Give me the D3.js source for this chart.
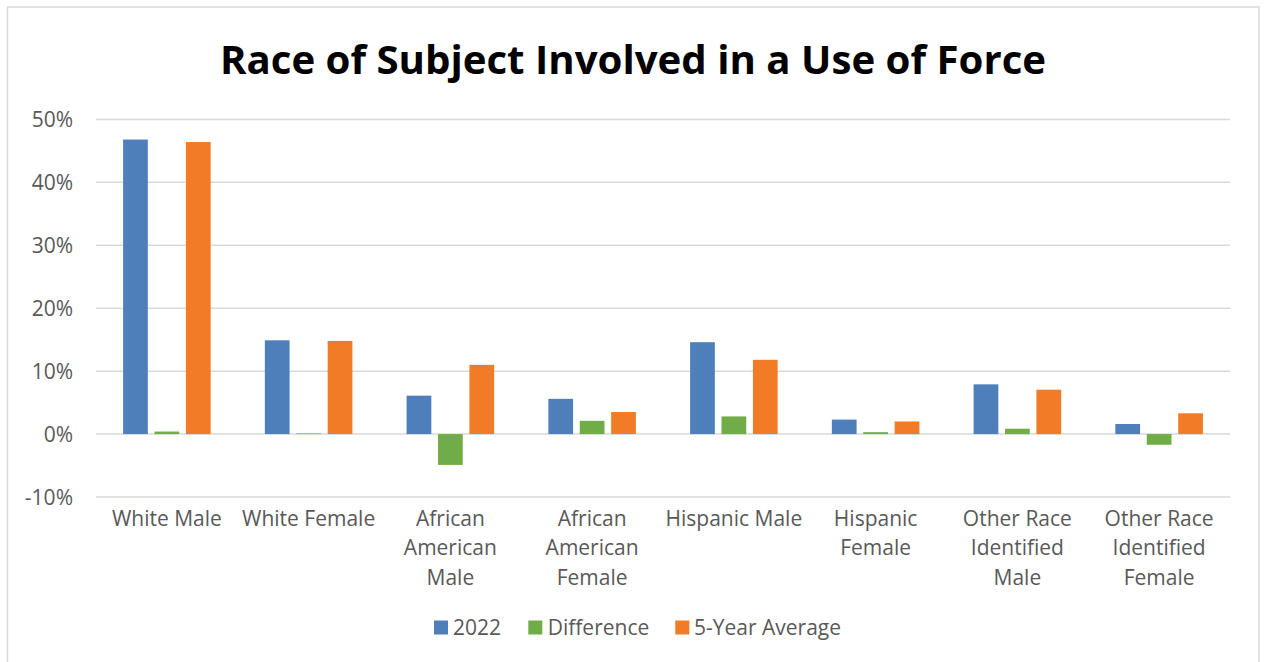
<!DOCTYPE html>
<html>
<head>
<meta charset="utf-8">
<script src="https://cdn.jsdelivr.net/npm/d3@7"></script>
<style>
  html, body { margin: 0; padding: 0; background: #ffffff; }
  svg { display: block; font-family: "Open Sans", "Noto Sans", sans-serif; }
</style>
</head>
<body>
<svg id="chart" width="1264" height="662"></svg>
<script>
// Use-of-force subjects by race and sex, as a share of all subjects (%)
const categories = [
  ["White Male"],
  ["White Female"],
  ["African", "American", "Male"],
  ["African", "American", "Female"],
  ["Hispanic Male"],
  ["Hispanic", "Female"],
  ["Other Race", "Identified", "Male"],
  ["Other Race", "Identified", "Female"]
];
const seriesNames = ["2022", "Difference", "5-Year Average"];
const values2022 = [46.8, 14.9, 6.1, 5.6, 14.6, 2.3, 7.9, 1.6];
const valuesDifference = [0.4, 0.1, -4.9, 2.1, 2.8, 0.3, 0.85, -1.7];
const valuesFiveYear = [46.4, 14.8, 11.0, 3.5, 11.8, 2.0, 7.05, 3.3];
const yTicks = [-10, 0, 10, 20, 30, 40, 50];
const colors = ["#4e7fbb", "#70ad47", "#f27b27"];

const svg = d3.select("#chart");
const W = 1264, H = 662;

// outer chart frame
svg.append("rect")
  .attr("x", 7.5).attr("y", 7).attr("width", 1251.5).attr("height", H + 10)
  .attr("fill", "#ffffff").attr("stroke", "#d9d9d9").attr("stroke-width", 1.5);

// title
svg.append("text")
  .attr("x", 633).attr("y", 74)
  .attr("text-anchor", "middle")
  .attr("font-size", 40.2).attr("font-weight", 700).attr("fill", "#000000")
  .text("Race of Subject Involved in a Use of Force");

const plot = { left: 96, right: 1230, top: 119.4, bottom: 497 };

const x = d3.scaleBand()
  .domain(d3.range(categories.length))
  .range([plot.left, plot.right])
  .paddingInner(0).paddingOuter(0);

const y = d3.scaleLinear().domain([-10, 50]).range([plot.bottom, plot.top]);

// gridlines
svg.append("g").selectAll("line")
  .data(yTicks)
  .join("line")
  .attr("x1", plot.left).attr("x2", plot.right)
  .attr("y1", d => y(d)).attr("y2", d => y(d))
  .attr("stroke", "#d9d9d9").attr("stroke-width", 1.5);

// y axis labels
const yAxis = d3.axisLeft(y).tickValues(yTicks).tickFormat(d => d + "%").tickSize(0).tickPadding(0);
const gy = svg.append("g").attr("transform", "translate(73,0)").call(yAxis);
gy.select(".domain").remove();
gy.selectAll("text")
  .attr("font-size", 21).attr("fill", "#595959")
  .attr("font-family", "'Open Sans', sans-serif")
  .attr("dy", "0.35em");

// bars: gap between groups ~219% of bar width, bars separated by ~27%
const band = x.bandwidth();
const barW = band / (3 + 2 * 0.27 + 2.19);
const step = barW * 1.27;
const seriesData = [values2022, valuesDifference, valuesFiveYear];

seriesData.forEach((vals, s) => {
  svg.append("g").selectAll("rect")
    .data(vals)
    .join("rect")
    .attr("x", (d, i) => x(i) + band / 2 - (step + barW / 2) + s * step)
    .attr("width", barW)
    .attr("y", d => y(Math.max(0, d)))
    .attr("height", d => Math.abs(y(d) - y(0)))
    .attr("fill", colors[s]);
});

// category labels
const gx = svg.append("g");
categories.forEach((lines, i) => {
  const t = gx.append("text")
    .attr("text-anchor", "middle")
    .attr("font-size", 21).attr("fill", "#595959");
  lines.forEach((ln, j) => {
    t.append("tspan")
      .attr("x", x(i) + band / 2)
      .attr("y", 526 + j * 29.3)
      .text(ln);
  });
});

// legend
const legendItems = [
  { name: seriesNames[0], sq: 434, tx: 453 },
  { name: seriesNames[1], sq: 528.3, tx: 547.7 },
  { name: seriesNames[2], sq: 675.3, tx: 694 }
];
const lg = svg.append("g");
legendItems.forEach((it, k) => {
  lg.append("rect").attr("x", it.sq).attr("y", 620.5).attr("width", 14).attr("height", 14)
    .attr("fill", colors[k]);
  lg.append("text").attr("x", it.tx).attr("y", 635)
    .attr("font-size", 21).attr("fill", "#595959").text(it.name);
});
</script>
</body>
</html>
